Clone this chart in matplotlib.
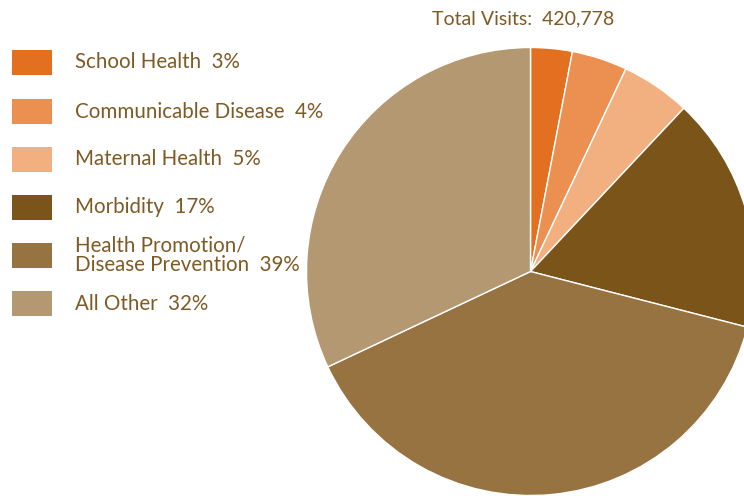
import matplotlib.pyplot as plt
from matplotlib.patches import Rectangle

# data
categories = ['School Health', 'Communicable Disease', 'Maternal Health',
              'Morbidity', 'Health Promotion/\nDisease Prevention', 'All Other']
shares = [3, 4, 5, 17, 39, 32]
colors = ['#E37020', '#EB9050', '#F2B080', '#7B541A', '#977342', '#B49872']
total_visits = '420,778'

txt_color = '#7E5A24'
plt.rcParams['font.family'] = ['Lato', 'DejaVu Sans']

fig = plt.figure(figsize=(7.44, 4.96), dpi=100)
ax = fig.add_axes([0, 0, 1, 1])

# pie in pixel-like coords (y up)
ax.pie(shares, colors=colors, startangle=90, counterclock=False,
       center=(530.5, 496 - 271.5), radius=224,
       wedgeprops=dict(edgecolor='white', linewidth=1))
ax.set_xlim(0, 744)
ax.set_ylim(0, 496)
ax.set_aspect('equal')
ax.axis('off')

# legend drawn by hand
row_y = [62.5, 111.5, 159, 207, 255, 303.5]
for lab, val, col, y in zip(categories, shares, colors, row_y):
    ax.add_patch(Rectangle((12, 496 - y - 12.5), 40, 25, color=col, lw=0))
    ax.text(75, 496 - y, '%s  %d%%' % (lab, val), color=txt_color,
            fontsize=14.8, va='center', ha='left', linespacing=0.95)

ax.text(432, 496 - 19, 'Total Visits:  ' + total_visits, color=txt_color,
        fontsize=14, va='center', ha='left')

plt.savefig('out.png', dpi=100)
